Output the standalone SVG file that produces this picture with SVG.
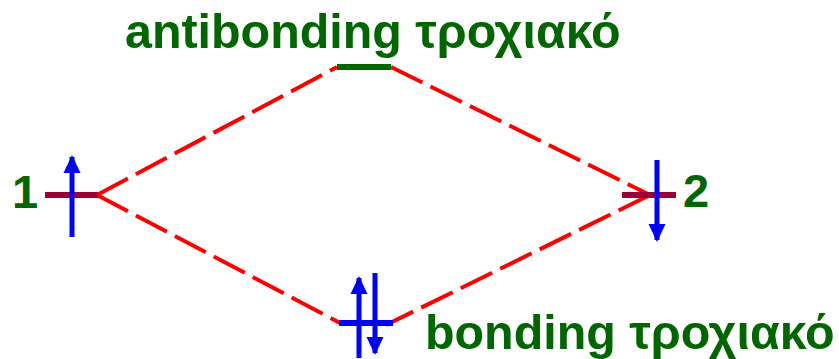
<svg xmlns="http://www.w3.org/2000/svg" width="839" height="359" viewBox="0 0 839 359">
<style>
.lbl{font-family:"Liberation Sans",Arial,sans-serif;font-weight:bold;fill:#006600;font-size:48.4px}
.num{font-size:47px}
.dash{stroke:#ff0000;stroke-width:4;stroke-dasharray:35,9;fill:none}
.lvl{stroke-width:6;fill:none}
.arr{stroke:#0000ff;stroke-width:5;fill:none}
</style>
<defs>
<marker id="ah" markerUnits="userSpaceOnUse" markerWidth="18" markerHeight="18" viewBox="0 0 18 18" refX="16" refY="9" orient="auto">
<path d="M0,0.5 L18,9 L0,17.5 Z" fill="#0000ff"/>
</marker>
</defs>
<g id="connectors">
<line class="dash" x1="97" y1="195" x2="337" y2="67"/>
<line class="dash" x1="391" y1="67" x2="650" y2="195"/>
<line class="dash" x1="97" y1="195" x2="340" y2="323"/>
<line class="dash" x1="650" y1="195" x2="386" y2="325"/>
</g>
<g id="atom1">
<line class="lvl" stroke="#990033" x1="45" y1="195" x2="98" y2="195"/>
<line class="arr" x1="72" y1="237" x2="72" y2="157" marker-end="url(#ah)"/>
<text class="lbl num" x="12" y="208">1</text>
</g>
<g id="atom2">
<line class="lvl" stroke="#990033" x1="622" y1="195" x2="676" y2="195"/>
<line class="arr" x1="657" y1="160" x2="657" y2="240" marker-end="url(#ah)"/>
<text class="lbl num" x="683" y="207">2</text>
</g>
<g id="antibonding">
<line class="lvl" stroke="#006600" x1="337" y1="67" x2="391" y2="67"/>
<text class="lbl" x="125" y="48">antibonding τροχιακό</text>
</g>
<g id="bonding">
<line class="lvl" stroke="#0000ff" x1="339" y1="323" x2="393" y2="323"/>
<line class="arr" x1="359" y1="358" x2="359" y2="278" marker-end="url(#ah)"/>
<line class="arr" x1="375" y1="273" x2="375" y2="353" marker-end="url(#ah)"/>
<text class="lbl" x="425" y="349">bonding τροχιακό</text>
</g>
</svg>
